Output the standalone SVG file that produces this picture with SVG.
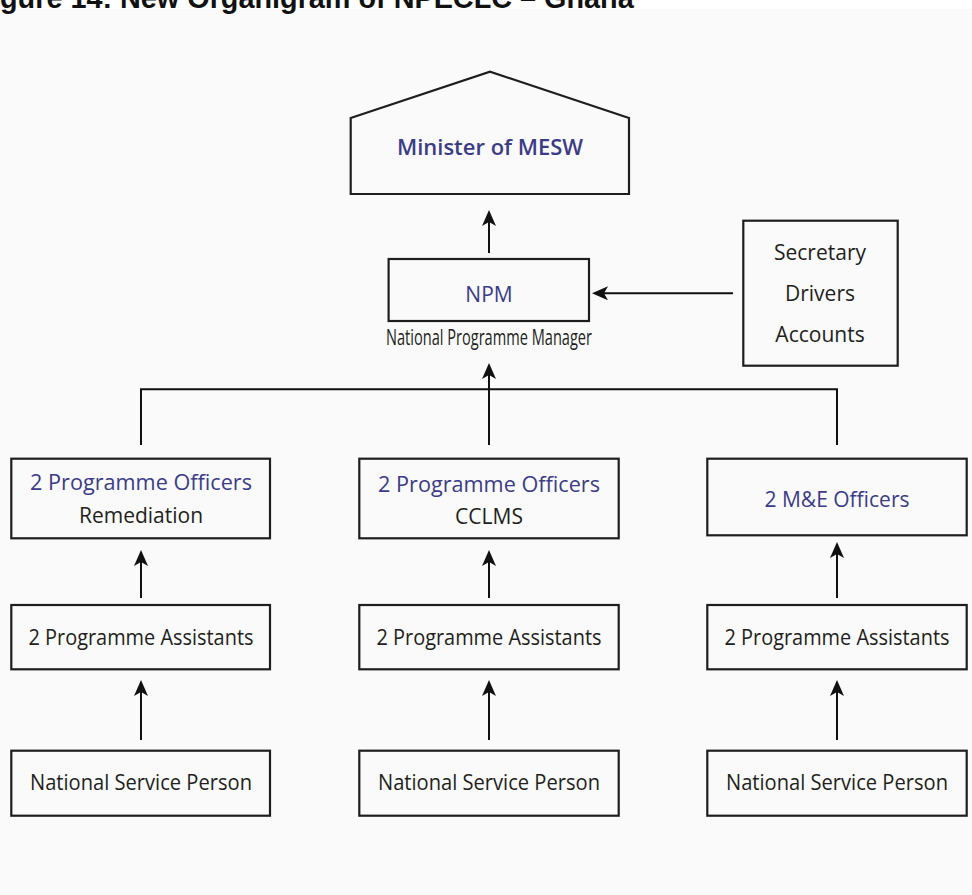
<svg xmlns="http://www.w3.org/2000/svg" width="972" height="895" viewBox="0 0 972 895">
  <defs>
    <marker id="ah" viewBox="0 0 16 14" refX="12" refY="7" markerWidth="16" markerHeight="14" markerUnits="userSpaceOnUse" orient="auto">
      <path d="M0,0 L16,7 L0,14 L4,7 Z" fill="#111"/>
    </marker>
    <style>
      .box { fill: none; stroke: #1e1e1e; stroke-width: 2.2; }
      .ln { fill: none; stroke: #111; stroke-width: 2; }
      .arr { fill: none; stroke: #111; stroke-width: 2; marker-end: url(#ah); }
      .t { font-family: "Open Sans", "Liberation Sans", sans-serif; font-size: 21px; text-anchor: middle; fill: #231f20; }
      .b { fill: #3c3c88; }
      .title { font-family: "Liberation Sans", Arial, sans-serif; font-weight: bold; font-size: 28.8px; fill: #111; }
    </style>
  </defs>
  <rect x="0" y="0" width="972" height="895" fill="#ffffff"/>
  <rect x="0" y="9" width="972" height="886" fill="#fafafa"/>
  <text class="title" x="0" y="8">gure 14: New Organigram of NPECLC – Ghana</text>

  <g id="minister">
    <path class="box" d="M350.7,194 L350.7,118 L490,71.7 L629,118 L629,194 Z"/>
    <text class="t b" x="490" y="155" font-size="24" font-weight="600" textLength="186" lengthAdjust="spacingAndGlyphs">Minister of MESW</text>
  </g>

  <g id="npm">
    <rect class="box" x="388.6" y="259" width="200.4" height="62"/>
    <text class="t b" x="489" y="301.5" font-size="23">NPM</text>
    <text class="t" x="489" y="345" font-size="14" textLength="206" lengthAdjust="spacingAndGlyphs">National Programme Manager</text>
  </g>

  <g id="support">
    <rect class="box" x="743.3" y="220.7" width="154.4" height="145"/>
    <text class="t" x="820" y="260" font-size="21.5">Secretary</text>
    <text class="t" x="820" y="300.7" font-size="21.5">Drivers</text>
    <text class="t" x="820" y="341.7" font-size="21.5">Accounts</text>
  </g>

  <g id="officers-remediation">
    <rect class="box" x="11.3" y="458.7" width="258.7" height="79.6"/>
    <text class="t b" x="141" y="490" textLength="222" lengthAdjust="spacingAndGlyphs">2 Programme Officers</text>
    <text class="t" x="141" y="522.7">Remediation</text>
  </g>
  <g id="officers-cclms">
    <rect class="box" x="359.3" y="458.7" width="259.4" height="79.6"/>
    <text class="t b" x="489" y="491.5" textLength="222" lengthAdjust="spacingAndGlyphs">2 Programme Officers</text>
    <text class="t" x="489" y="524.3">CCLMS</text>
  </g>
  <g id="officers-me">
    <rect class="box" x="707.3" y="458.7" width="259.4" height="76.6"/>
    <text class="t b" x="837" y="506.7">2 M&amp;E Officers</text>
  </g>

  <g id="assistants-1">
    <rect class="box" x="11.3" y="605" width="258.7" height="64.3"/>
    <text class="t" x="141" y="645" textLength="225" lengthAdjust="spacingAndGlyphs">2 Programme Assistants</text>
  </g>
  <g id="assistants-2">
    <rect class="box" x="359.3" y="605" width="259.4" height="64.3"/>
    <text class="t" x="489" y="645" textLength="225" lengthAdjust="spacingAndGlyphs">2 Programme Assistants</text>
  </g>
  <g id="assistants-3">
    <rect class="box" x="707.3" y="605" width="259.4" height="64.3"/>
    <text class="t" x="837" y="645" textLength="225" lengthAdjust="spacingAndGlyphs">2 Programme Assistants</text>
  </g>

  <g id="nsp-1">
    <rect class="box" x="11.3" y="750.7" width="258.7" height="65"/>
    <text class="t" x="141" y="790" textLength="222" lengthAdjust="spacingAndGlyphs">National Service Person</text>
  </g>
  <g id="nsp-2">
    <rect class="box" x="359.3" y="750.7" width="259.4" height="65"/>
    <text class="t" x="489" y="790" textLength="222" lengthAdjust="spacingAndGlyphs">National Service Person</text>
  </g>
  <g id="nsp-3">
    <rect class="box" x="707.3" y="750.7" width="259.4" height="65"/>
    <text class="t" x="837" y="790" textLength="222" lengthAdjust="spacingAndGlyphs">National Service Person</text>
  </g>

  <g id="connectors">
    <path class="arr" d="M489,253 V214"/>
    <path class="arr" d="M733,293.3 H596"/>
    <path class="ln" d="M141,445 V389.3 H837 V445"/>
    <path class="arr" d="M489,445 V367"/>
    <path class="arr" d="M141,598 V554"/>
    <path class="arr" d="M489,598 V554"/>
    <path class="arr" d="M837,598 V546"/>
    <path class="arr" d="M141,740 V684"/>
    <path class="arr" d="M489,740 V684"/>
    <path class="arr" d="M837,740 V684"/>
  </g>
</svg>
